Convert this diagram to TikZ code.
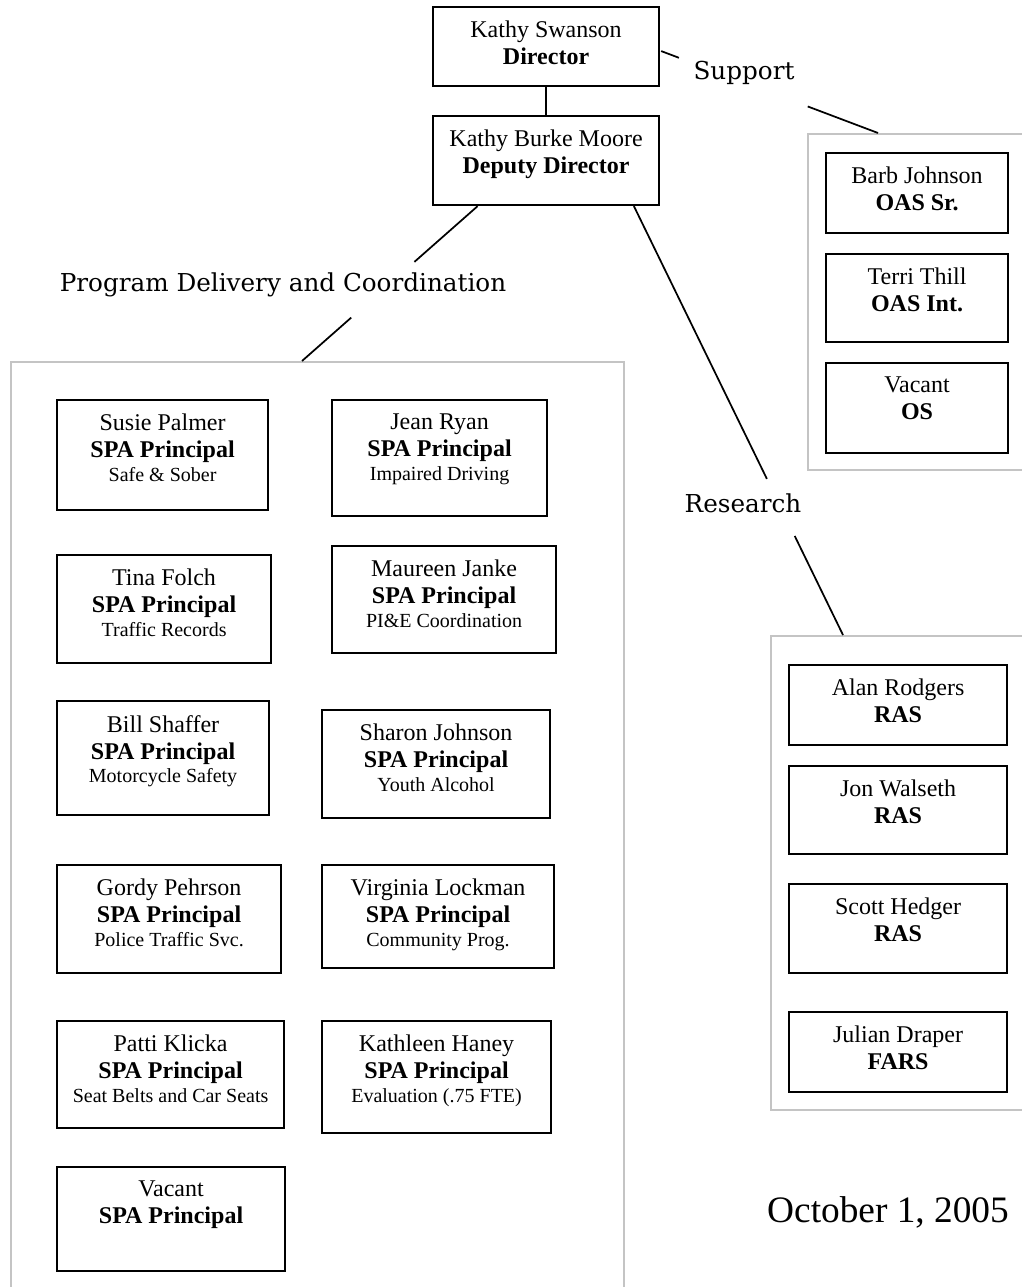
\documentclass[tikz,border=0pt]{standalone}
\usepackage{fontspec}
\setmainfont{Liberation Serif}
\newfontfamily\headfont{DejaVu Serif}
\usetikzlibrary{positioning,calc}
\definecolor{OCgray}{RGB}{196,196,196}
\newcommand\subline[1]{{\fontsize{15}{15.75}\selectfont #1}}
\tikzset{
  pbox/.style 2 args={draw=black,line width=1.6pt,anchor=north west,inner sep=0pt,
                      minimum width=#1*0.75pt,minimum height=#2*0.75pt},
  grp/.style 2 args={draw=OCgray,line width=1.5pt,anchor=north west,inner sep=0pt,
                     minimum width=#1*0.75pt,minimum height=#2*0.75pt},
  ptext/.style={align=center,inner sep=0pt,font=\fontsize{18}{20.25}\selectfont},
  head/.style={font=\headfont\fontsize{18.5}{22}\selectfont},
  datel/.style={font=\fontsize{28}{32}\selectfont},
  link/.style={line width=1.3pt,draw=black}
}
\begin{document}
\begin{tikzpicture}[x=0.75pt,y=-0.75pt]
  \useasboundingbox (0,0) rectangle (1021,1287);
  \node[grp={613}{940}] (pdcgrp) at (10,361) {};
  \node[grp={225}{336}] (supgrp) at (807,133) {};
  \node[grp={260}{474}] (resgrp) at (770,635) {};

  \node[pbox={226}{79}] (director) at (432,6) {};
  \node[pbox={226}{89}] (deputy) at (432,115) {};
  \node[ptext,below=11.2pt of director.north] (director-t) {Kathy Swanson\\\textbf{Director}};
  \node[ptext,below=11.2pt of deputy.north] (deputy-t) {Kathy Burke Moore\\\textbf{Deputy Director}};

  \node[pbox={182}{80}] (barb) at (825,152) {};
  \node[pbox={182}{88}] (terri) at (825,253) {};
  \node[pbox={182}{90}] (vacantos) at (825,362) {};
  \node[ptext,below=11.2pt of barb.north] (barb-t) {Barb Johnson\\\textbf{OAS Sr.}};
  \node[ptext,below=11.2pt of terri.north] (terri-t) {Terri Thill\\\textbf{OAS Int.}};
  \node[ptext,below=11.2pt of vacantos.north] (vacantos-t) {Vacant\\\textbf{OS}};

  \node[pbox={218}{80}] (alan) at (788,664) {};
  \node[pbox={218}{88}] (jon) at (788,765) {};
  \node[pbox={218}{89}] (scott) at (788,883) {};
  \node[pbox={218}{80}] (julian) at (788,1011) {};
  \node[ptext,below=11.2pt of alan.north] (alan-t) {Alan Rodgers\\\textbf{RAS}};
  \node[ptext,below=11.2pt of jon.north] (jon-t) {Jon Walseth\\\textbf{RAS}};
  \node[ptext,below=11.2pt of scott.north] (scott-t) {Scott Hedger\\\textbf{RAS}};
  \node[ptext,below=11.2pt of julian.north] (julian-t) {Julian Draper\\\textbf{FARS}};

  \node[pbox={211}{110}] (susie) at (56,399) {};
  \node[pbox={215}{116}] (jean) at (331,399) {};
  \node[pbox={214}{108}] (tina) at (56,554) {};
  \node[pbox={224}{107}] (maureen) at (331,545) {};
  \node[pbox={212}{114}] (bill) at (56,700) {};
  \node[pbox={228}{108}] (sharon) at (321,709) {};
  \node[pbox={224}{108}] (gordy) at (56,864) {};
  \node[pbox={232}{103}] (virginia) at (321,864) {};
  \node[pbox={227}{107}] (patti) at (56,1020) {};
  \node[pbox={229}{112}] (kathleen) at (321,1020) {};
  \node[pbox={228}{104}] (vacantspa) at (56,1166) {};
  \node[ptext,below=11.2pt of susie.north] (susie-t) {Susie Palmer\\\textbf{SPA Principal}\\[-2.5pt]\subline{Safe \& Sober}};
  \node[ptext,below=11.2pt of jean.north] (jean-t) {Jean Ryan\\\textbf{SPA Principal}\\[-2.5pt]\subline{Impaired Driving}};
  \node[ptext,below=11.2pt of tina.north] (tina-t) {Tina Folch\\\textbf{SPA Principal}\\[-2.5pt]\subline{Traffic Records}};
  \node[ptext,below=11.2pt of maureen.north] (maureen-t) {Maureen Janke\\\textbf{SPA Principal}\\[-2.5pt]\subline{PI\&E Coordination}};
  \node[ptext,below=11.2pt of bill.north] (bill-t) {Bill Shaffer\\\textbf{SPA Principal}\\[-2.5pt]\subline{Motorcycle Safety}};
  \node[ptext,below=11.2pt of sharon.north] (sharon-t) {Sharon Johnson\\\textbf{SPA Principal}\\[-2.5pt]\subline{Youth Alcohol}};
  \node[ptext,below=11.2pt of gordy.north] (gordy-t) {Gordy Pehrson\\\textbf{SPA Principal}\\[-2.5pt]\subline{Police Traffic Svc.}};
  \node[ptext,below=11.2pt of virginia.north] (virginia-t) {Virginia Lockman\\\textbf{SPA Principal}\\[-2.5pt]\subline{Community Prog.}};
  \node[ptext,below=11.2pt of patti.north] (patti-t) {Patti Klicka\\\textbf{SPA Principal}\\[-2.5pt]\subline{Seat Belts and Car Seats}};
  \node[ptext,below=11.2pt of kathleen.north] (kathleen-t) {Kathleen Haney\\\textbf{SPA Principal}\\[-2.5pt]\subline{Evaluation (.75 FTE)}};
  \node[ptext,below=11.2pt of vacantspa.north] (vacantspa-t) {Vacant\\\textbf{SPA Principal}};

  \node[head] (sup-l) at (744,73) {Support};
  \node[head] (pdc-l) at (283,285) {Program Delivery and Coordination};
  \node[head] (res-l) at (743,503) {Research};
  \node[datel] (date) at (888,1212) {October 1, 2005};

  \coordinate (sup-a) at ($(director.east)+(1,4.5)$);
  \coordinate (sup-b) at ($(supgrp.north west)+(71,0)$);
  \coordinate (pdc-a) at ($(deputy.south west)!0.2!(deputy.south east)$);
  \coordinate (pdc-b) at ($(pdcgrp.north west)+(292,0)$);
  \coordinate (res-a) at ($(deputy.south west)!0.885!(deputy.south east)$);
  \coordinate (res-b) at ($(resgrp.north west)+(73,0)$);

  \draw[link] (director) -- (deputy);
  \draw[link] (sup-a) -- ($(sup-a)!0.082!(sup-b)$);
  \draw[link] ($(sup-a)!0.676!(sup-b)$) -- (sup-b);
  \draw[link] (pdc-a) -- ($(pdc-a)!0.36!(pdc-b)$);
  \draw[link] ($(pdc-a)!0.72!(pdc-b)$) -- (pdc-b);
  \draw[link] (res-a) -- ($(res-a)!0.636!(res-b)$);
  \draw[link] ($(res-a)!0.769!(res-b)$) -- (res-b);
\end{tikzpicture}
\end{document}
